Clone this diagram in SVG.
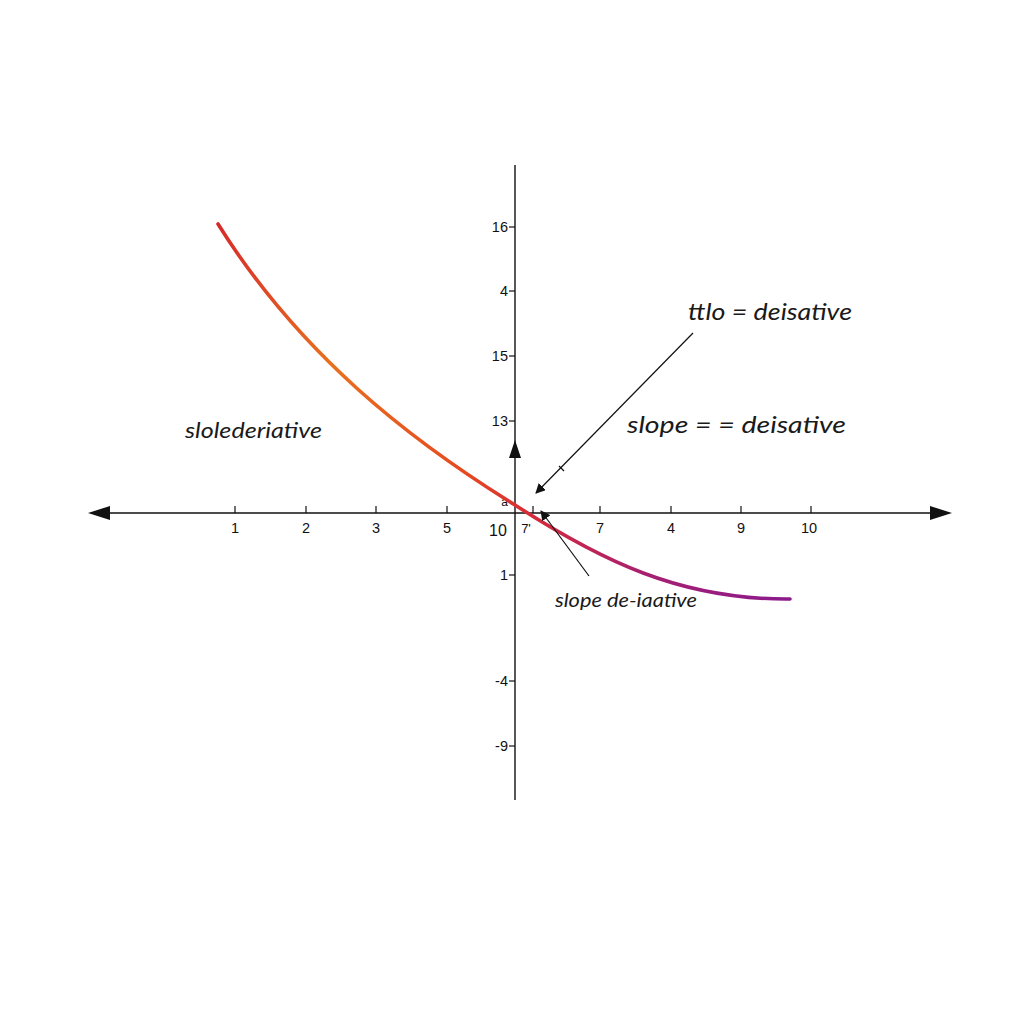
<svg xmlns="http://www.w3.org/2000/svg" width="1024" height="1024" viewBox="0 0 1024 1024">
<style>
.ax{stroke:#111;stroke-width:1.4;fill:none}
.tk{stroke:#111;stroke-width:1.2}
.num{font-family:"Liberation Sans",Arial,sans-serif;font-size:14.5px;fill:#111}
.lbl{font-family:Lato,"Open Sans",sans-serif;font-style:italic;fill:#1a1a1a}
.ptr{stroke:#111;stroke-width:1.2;fill:none}
</style>
<defs>
<marker id="ah" viewBox="0 0 10 10" refX="9" refY="5" markerWidth="10" markerHeight="10" markerUnits="userSpaceOnUse" orient="auto">
<path d="M0,0 L10,5 L0,10 z" fill="#111"/>
</marker>
<linearGradient id="cg" gradientUnits="userSpaceOnUse" x1="218" y1="224" x2="790" y2="599">
<stop offset="0" stop-color="#d62a2a"/>
<stop offset="0.25" stop-color="#e8701e"/>
<stop offset="0.5" stop-color="#e64a20"/>
<stop offset="0.62" stop-color="#d42a3a"/>
<stop offset="0.8" stop-color="#a82070"/>
<stop offset="1" stop-color="#8a1a8c"/>
</linearGradient>
</defs>
<rect width="1024" height="1024" fill="#fff"/>
<g id="axes">
<line class="ax" x1="106" y1="513" x2="934" y2="513"/>
<path d="M88,513 L110,506 L110,520 z" fill="#111"/>
<path d="M952,513 L930,506 L930,520 z" fill="#111"/>
<line class="ax" x1="515" y1="165" x2="515" y2="800"/>
<path d="M515,440 L509,458 L521,458 z" fill="#111"/>
<g class="tk">
<line x1="235" y1="506" x2="235" y2="513"/><line x1="306" y1="506" x2="306" y2="513"/>
<line x1="376" y1="506" x2="376" y2="513"/><line x1="447" y1="506" x2="447" y2="513"/>
<line x1="533" y1="506" x2="533" y2="513"/>
<line x1="600" y1="506" x2="600" y2="513"/><line x1="671" y1="506" x2="671" y2="513"/>
<line x1="741" y1="506" x2="741" y2="513"/><line x1="811" y1="506" x2="811" y2="513"/>
<line x1="509" y1="227" x2="515" y2="227"/><line x1="509" y1="291" x2="515" y2="291"/>
<line x1="509" y1="356" x2="515" y2="356"/><line x1="509" y1="421" x2="515" y2="421"/>
<line x1="509" y1="575" x2="515" y2="575"/><line x1="509" y1="681" x2="515" y2="681"/>
<line x1="509" y1="746" x2="515" y2="746"/>
</g>
<g class="num" text-anchor="middle">
<text x="235" y="533">1</text><text x="306" y="533">2</text><text x="376" y="533">3</text>
<text x="447" y="533">5</text><text x="498" y="536" font-size="16">10</text><text x="526" y="533" font-size="13">7'</text>
<text x="600" y="533">7</text><text x="671" y="533">4</text><text x="741" y="533">9</text><text x="809" y="533">10</text>
</g>
<g class="num" text-anchor="end">
<text x="508" y="232">16</text><text x="508" y="296">4</text><text x="508" y="361">15</text>
<text x="508" y="426">13</text><text x="508" y="506" font-size="12">a</text><text x="508" y="580">1</text>
<text x="508" y="686">-4</text><text x="508" y="751">-9</text>
</g>
</g>
<g id="curve">
<path d="M218,224 C300,355 410,440 515,505 C600,560 680,600 790,599" stroke="url(#cg)" stroke-width="3.6" fill="none" stroke-linecap="round"/>
</g>
<g id="connectors">
<line class="ptr" x1="693" y1="333" x2="536" y2="493" marker-end="url(#ah)"/>
<line class="tk" x1="559" y1="466" x2="564" y2="471"/>
<line class="ptr" x1="589" y1="576" x2="541" y2="511" marker-end="url(#ah)"/>
</g>
<g id="labels">
<text class="lbl" x="688" y="320" font-size="23" textLength="164" lengthAdjust="spacingAndGlyphs">ttlo = deisative</text>
<text class="lbl" x="627" y="433" font-size="23" textLength="219" lengthAdjust="spacingAndGlyphs">slope = = deisative</text>
<text class="lbl" x="185" y="438" font-size="21" textLength="137" lengthAdjust="spacingAndGlyphs">slolederiative</text>
<text class="lbl" x="555" y="607" font-size="19" textLength="142" lengthAdjust="spacingAndGlyphs">slope de-iaative</text>
</g>
</svg>
